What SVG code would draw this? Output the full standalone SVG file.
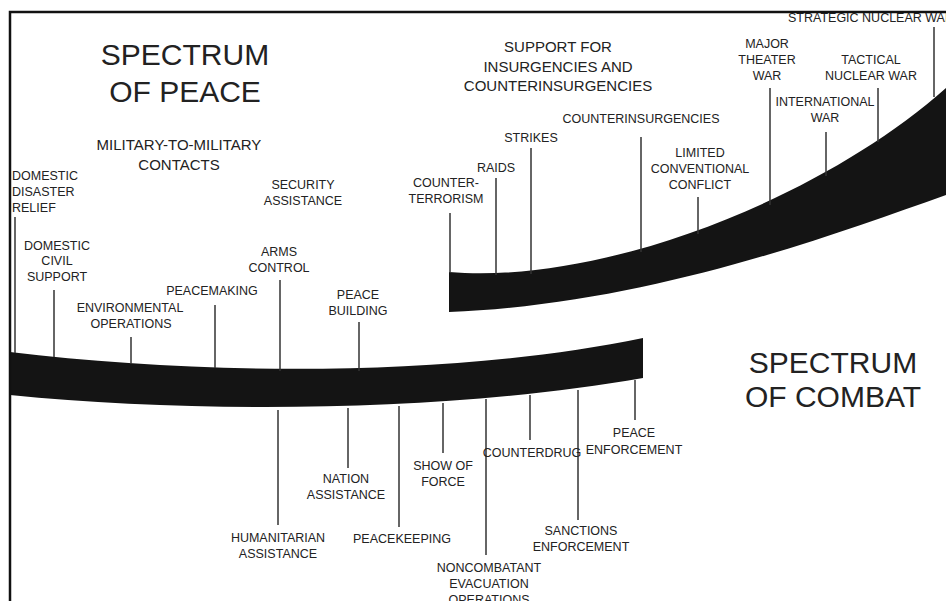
<svg xmlns="http://www.w3.org/2000/svg" width="946" height="601" viewBox="0 0 946 601">
<style>
text{font-family:"Liberation Sans",Arial,sans-serif;fill:#222}
.t{font-size:30px;text-anchor:middle}
.m{font-size:15px;text-anchor:middle}
.s{font-size:12.5px;text-anchor:middle}
.l{font-size:12.5px;text-anchor:start}
.band{fill:#141414}
.tick{stroke:#333;stroke-width:1.5;fill:none}
.frame{stroke:#111;stroke-width:2.5;fill:none}
</style>
<rect width="946" height="601" fill="#fff"/>
<g id="bands">
<path id="peace-band" class="band" d="M10,352 C200,375 450,378 643,338 L643,378 C450,412 200,414 10,395 Z"/>
<path id="combat-band" class="band" d="M449,272 C600,285 820,200 946,88 L946,195 C820,240 640,305 449,312 Z"/>
</g>
<g id="connectors">
<line class="tick" x1="15" y1="217" x2="15" y2="353"/>
<line class="tick" x1="54" y1="290" x2="54" y2="357"/>
<line class="tick" x1="131" y1="337" x2="131" y2="364"/>
<line class="tick" x1="215" y1="305" x2="215" y2="368"/>
<line class="tick" x1="280" y1="280" x2="280" y2="371"/>
<line class="tick" x1="359" y1="322" x2="359" y2="371"/>
<line class="tick" x1="278" y1="410" x2="278" y2="525"/>
<line class="tick" x1="348" y1="408" x2="348" y2="468"/>
<line class="tick" x1="399" y1="406" x2="399" y2="527"/>
<line class="tick" x1="443" y1="403" x2="443" y2="453"/>
<line class="tick" x1="486" y1="399" x2="486" y2="555"/>
<line class="tick" x1="530" y1="395" x2="530" y2="440"/>
<line class="tick" x1="578" y1="390" x2="578" y2="520"/>
<line class="tick" x1="635" y1="380" x2="635" y2="420"/>
<line class="tick" x1="450" y1="213" x2="450" y2="273"/>
<line class="tick" x1="496" y1="178" x2="496" y2="275"/>
<line class="tick" x1="531" y1="148" x2="531" y2="274"/>
<line class="tick" x1="641" y1="137" x2="641" y2="252"/>
<line class="tick" x1="698" y1="197" x2="698" y2="234"/>
<line class="tick" x1="770" y1="88" x2="770" y2="205"/>
<line class="tick" x1="826" y1="132" x2="826" y2="176"/>
<line class="tick" x1="878" y1="88" x2="878" y2="142"/>
<line class="tick" x1="934" y1="27" x2="934" y2="97"/>
</g>
<g id="title-peace"><text class="t" x="185" y="65">SPECTRUM</text><text class="t" x="185" y="102">OF PEACE</text></g>
<g id="title-combat"><text class="t" x="833" y="373">SPECTRUM</text><text class="t" x="833" y="407">OF COMBAT</text></g>
<g id="mil-contacts"><text class="m" x="179" y="150">MILITARY-TO-MILITARY</text><text class="m" x="179" y="170">CONTACTS</text></g>
<g id="support-insurgencies"><text class="m" x="558" y="52">SUPPORT FOR</text><text class="m" x="558" y="72">INSURGENCIES AND</text><text class="m" x="558" y="91">COUNTERINSURGENCIES</text></g>
<g id="domestic-disaster"><text class="l" x="12" y="180">DOMESTIC</text><text class="l" x="12" y="196">DISASTER</text><text class="l" x="12" y="212">RELIEF</text></g>
<g id="domestic-civil"><text class="s" x="57" y="250">DOMESTIC</text><text class="s" x="57" y="265">CIVIL</text><text class="s" x="57" y="281">SUPPORT</text></g>
<g id="environmental"><text class="s" x="130" y="312">ENVIRONMENTAL</text><text class="s" x="131" y="328">OPERATIONS</text></g>
<g id="peacemaking"><text class="s" x="212" y="295">PEACEMAKING</text></g>
<g id="arms-control"><text class="s" x="279" y="256">ARMS</text><text class="s" x="279" y="272">CONTROL</text></g>
<g id="security-assistance"><text class="s" x="303" y="189">SECURITY</text><text class="s" x="303" y="205">ASSISTANCE</text></g>
<g id="peace-building"><text class="s" x="358" y="299">PEACE</text><text class="s" x="358" y="315">BUILDING</text></g>
<g id="counter-terrorism"><text class="s" x="446" y="187">COUNTER-</text><text class="s" x="446" y="203">TERRORISM</text></g>
<g id="raids"><text class="s" x="496" y="172">RAIDS</text></g>
<g id="strikes"><text class="s" x="531" y="142">STRIKES</text></g>
<g id="counterinsurgencies"><text class="s" x="641" y="123">COUNTERINSURGENCIES</text></g>
<g id="limited-conflict"><text class="s" x="700" y="157">LIMITED</text><text class="s" x="700" y="173">CONVENTIONAL</text><text class="s" x="700" y="189">CONFLICT</text></g>
<g id="major-theater-war"><text class="s" x="767" y="48">MAJOR</text><text class="s" x="767" y="64">THEATER</text><text class="s" x="767" y="80">WAR</text></g>
<g id="international-war"><text class="s" x="825" y="106">INTERNATIONAL</text><text class="s" x="825" y="122">WAR</text></g>
<g id="tactical-nuclear-war"><text class="s" x="871" y="64">TACTICAL</text><text class="s" x="871" y="80">NUCLEAR WAR</text></g>
<g id="strategic-nuclear-war"><text class="l" x="788" y="22">STRATEGIC NUCLEAR WAR</text></g>
<g id="humanitarian"><text class="s" x="278" y="542">HUMANITARIAN</text><text class="s" x="278" y="558">ASSISTANCE</text></g>
<g id="nation-assistance"><text class="s" x="346" y="483">NATION</text><text class="s" x="346" y="499">ASSISTANCE</text></g>
<g id="peacekeeping"><text class="s" x="402" y="543">PEACEKEEPING</text></g>
<g id="show-of-force"><text class="s" x="443" y="470">SHOW OF</text><text class="s" x="443" y="486">FORCE</text></g>
<g id="neo"><text class="s" x="489" y="572">NONCOMBATANT</text><text class="s" x="489" y="588">EVACUATION</text><text class="s" x="489" y="604">OPERATIONS</text></g>
<g id="counterdrug"><text class="s" x="532" y="457">COUNTERDRUG</text></g>
<g id="sanctions"><text class="s" x="581" y="535">SANCTIONS</text><text class="s" x="581" y="551">ENFORCEMENT</text></g>
<g id="peace-enforcement"><text class="s" x="634" y="437">PEACE</text><text class="s" x="634" y="454">ENFORCEMENT</text></g>
<g id="frame"><path class="frame" d="M10,601 L10,12 L946,12"/></g>
</svg>
